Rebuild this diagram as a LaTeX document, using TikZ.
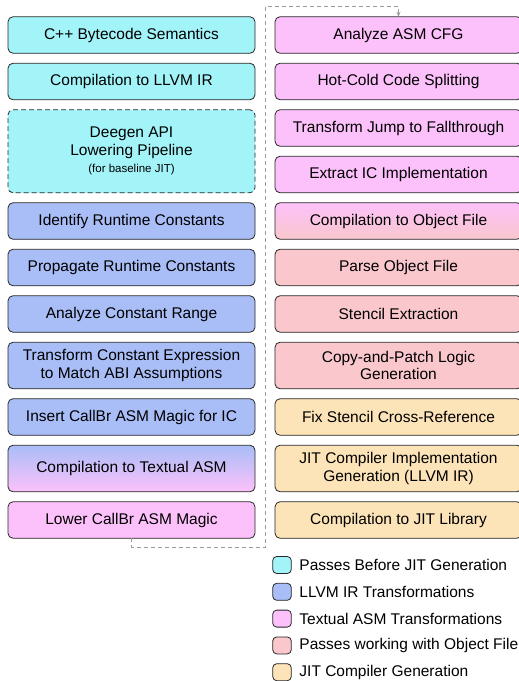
\documentclass[tikz,border=0pt]{standalone}
\usepackage{fontspec}
\setmainfont{Liberation Sans}
\usepackage{tikz}
\usetikzlibrary{arrows.meta,positioning,calc}
\usepackage{xcolor}
\definecolor{precyan}{HTML}{A2F4F9}
\definecolor{llvmblue}{HTML}{A9BDF7}
\definecolor{asmpink}{HTML}{FCC1FA}
\definecolor{objred}{HTML}{F9C7CC}
\definecolor{jitorange}{HTML}{FCE3B8}
\definecolor{loopgray}{HTML}{9C9C9C}
\newcommand{\passfont}{\fontsize{15.5}{17.5}\selectfont}

\begin{document}
\begin{tikzpicture}[
  pass/.style={draw=black!85, line width=0.8pt, rectangle, rounded corners=5pt,
               minimum width=247pt, minimum height=36.5pt, inner sep=2pt,
               outer sep=0pt, font=\passfont, align=center},
  tall/.style={minimum height=46.5pt},
  swatch/.style={draw=black!85, line width=0.8pt, rectangle, rounded corners=4pt,
                 minimum width=18.5pt, minimum height=17pt, inner sep=0pt, outer sep=0pt},
  keytext/.style={font=\passfont, anchor=west, inner sep=0pt},
  loopback/.style={draw=loopgray, line width=0.8pt, dash pattern=on 4pt off 3pt,
                   -{Stealth[length=5pt,width=4pt]}},
  node distance=10pt
]
  \useasboundingbox (0,0) rectangle (519pt,-681pt);

  %% Left column
  \node[pass, fill=precyan] (cpp) at (131.5pt,-35pt)
    {C++ Bytecode Semantics};
  \node[pass, fill=precyan, below=of cpp] (llvmir)
    {Compilation to LLVM IR};
  \node[pass, fill=precyan, dash pattern=on 5pt off 3pt, minimum height=83pt,
        below=of llvmir] (deegen)
    {Deegen API\\Lowering Pipeline\\{\fontsize{11.5}{14}\selectfont (for baseline JIT)}};
  \node[pass, fill=llvmblue, below=of deegen] (identify)
    {Identify Runtime Constants};
  \node[pass, fill=llvmblue, below=of identify] (propagate)
    {Propagate Runtime Constants};
  \node[pass, fill=llvmblue, below=of propagate] (range)
    {Analyze Constant Range};
  \node[pass, tall, fill=llvmblue, below=of range] (constexpr)
    {Transform Constant Expression\\to Match ABI Assumptions};
  \node[pass, fill=llvmblue, below=of constexpr] (callbr)
    {Insert CallBr ASM Magic for IC};
  \node[pass, tall, top color=llvmblue, bottom color=asmpink, below=of callbr] (textasm)
    {Compilation to Textual ASM};
  \node[pass, fill=asmpink, below=of textasm] (lower)
    {Lower CallBr ASM Magic};

  %% Right column
  \node[pass, fill=asmpink, right=20pt of cpp] (cfg)
    {Analyze ASM CFG};
  \node[pass, fill=asmpink, below=of cfg] (hotcold)
    {Hot-Cold Code Splitting};
  \node[pass, fill=asmpink, below=of hotcold] (fallthru)
    {Transform Jump to Fallthrough};
  \node[pass, fill=asmpink, below=of fallthru] (extractic)
    {Extract IC Implementation};
  \node[pass, top color=asmpink, bottom color=objred, below=of extractic] (objfile)
    {Compilation to Object File};
  \node[pass, fill=objred, below=of objfile] (parse)
    {Parse Object File};
  \node[pass, fill=objred, below=of parse] (stencil)
    {Stencil Extraction};
  \node[pass, tall, fill=objred, below=of stencil] (patch)
    {Copy-and-Patch Logic\\Generation};
  \node[pass, fill=jitorange, below=of patch] (xref)
    {Fix Stencil Cross-Reference};
  \node[pass, tall, fill=jitorange, below=of xref] (jitimpl)
    {JIT Compiler Implementation\\Generation (LLVM IR)};
  \node[pass, fill=jitorange, below=of jitimpl] (jitlib)
    {Compilation to JIT Library};

  %% Loop back from left column to right column
  \coordinate (lowturn) at ([yshift=-9pt]lower.south);
  \coordinate (gapline) at ($(lower.east)!0.5!(jitlib.west)$);
  \coordinate (topturn) at ([yshift=10pt]cfg.north);
  \draw[loopback] (lower.south) -- (lowturn) -| (gapline |- topturn) -| (cfg.north);

  %% Legend
  \node[swatch, fill=precyan] (keycyan) at (282pt,-565pt) {};
  \node[keytext, right=8pt of keycyan] (keycyantext) {Passes Before JIT Generation};
  \node[swatch, fill=llvmblue, below=9.8pt of keycyan] (keyblue) {};
  \node[keytext, right=8pt of keyblue] (keybluetext) {LLVM IR Transformations};
  \node[swatch, fill=asmpink, below=9.8pt of keyblue] (keypink) {};
  \node[keytext, right=8pt of keypink] (keypinktext) {Textual ASM Transformations};
  \node[swatch, fill=objred, below=9.8pt of keypink] (keyred) {};
  \node[keytext, right=8pt of keyred] (keyredtext) {Passes working with Object File};
  \node[swatch, fill=jitorange, below=9.8pt of keyred] (keyorange) {};
  \node[keytext, right=8pt of keyorange] (keyorangetext) {JIT Compiler Generation};
\end{tikzpicture}
\end{document}
